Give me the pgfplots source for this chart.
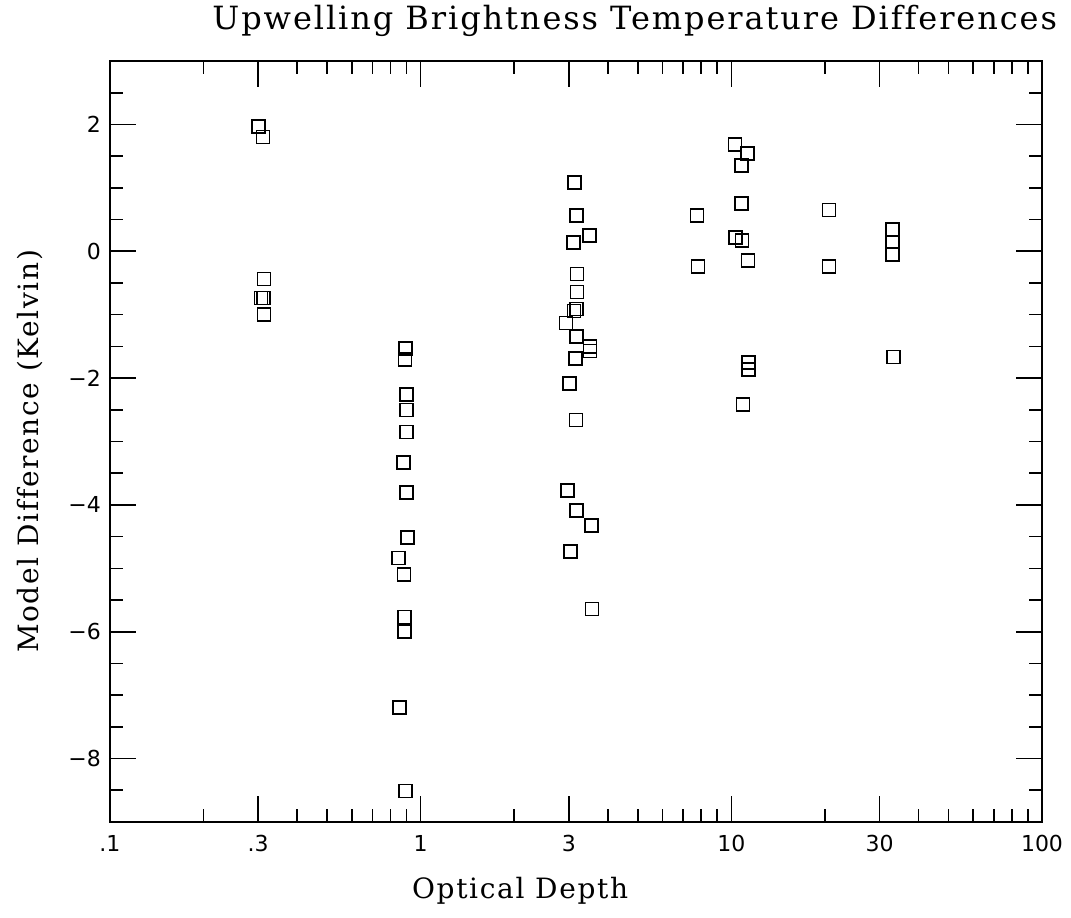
\documentclass[border=0pt]{standalone}
\usepackage{fontspec}
\setmainfont{DejaVu Serif}
\newfontfamily\titlefont[LetterSpace=6, Ligatures=NoCommon]{DejaVu Serif}
\newfontfamily\tickfont{DejaVu Sans}
\usepackage{pgfplots}
\pgfplotsset{compat=1.18}

\begin{document}
\begin{tikzpicture}
\begin{axis}[
    name=ax,
    at={(0,0)}, anchor=south west,
    scale only axis,
    width=466pt, height=380.5pt,
    xmode=log, log basis x=10,
    xmin=0.1, xmax=100,
    ymin=-9, ymax=3,
    xtick={0.1,0.3,1,3,10,30,100},
    xticklabels={.1,.3,1,3,10,30,100},
    minor xtick={0.2,0.4,0.5,0.6,0.7,0.8,0.9,2,4,5,6,7,8,9,20,40,50,60,70,80,90},
    ytick={-8,-6,-4,-2,0,2},
    yticklabels={−8,−6,−4,−2,0,2},
    minor ytick={-9,-8.5,...,3},
    tick align=inside,
    major tick length=13pt,
    minor tick length=6.5pt,
    every tick/.style={black, line width=0.8pt},
    axis line style={line width=1pt},
    tick label style={font=\tickfont\fontsize{11pt}{13pt}\selectfont},
    xticklabel style={yshift=-3pt},
    yticklabel style={xshift=-1pt},
    title={Upwelling Brightness Temperature Differences},
    title style={font=\titlefont\fontsize{16pt}{18pt}\selectfont, at={(axis description cs:0.563,1.025)}, anchor=base},
    xlabel={Optical Depth},
    xlabel style={font=\titlefont\fontsize{14pt}{16pt}\selectfont, at={(axis description cs:0.44,-0.1)}, anchor=base},
    ylabel={Model Difference (Kelvin)},
    ylabel style={font=\titlefont\fontsize{14pt}{16pt}\selectfont, at={(axis description cs:-0.077,0.487)}, anchor=base, rotate=0},
]
% squares
\addplot[only marks, mark=square, mark size=3.25pt, mark options={line width=0.8pt}, black] coordinates {
    (0.301,1.97) (0.311,1.80) (0.313,-0.44) (0.306,-0.74) (0.312,-0.74) (0.313,-1.00)
    (0.895,-1.53) (0.890,-1.71) (0.899,-2.26) (0.899,-2.50) (0.900,-2.85) (0.879,-3.33)
    (0.899,-3.80) (0.906,-4.51) (0.850,-4.84) (0.883,-5.10) (0.886,-5.77) (0.886,-6.00)
    (0.856,-7.19) (0.894,-8.51)
    (3.13,1.085) (3.18,0.566) (3.50,0.25) (3.11,0.134) (3.19,-0.36) (3.19,-0.64)
    (3.12,-0.94) (3.17,-0.91) (2.94,-1.13) (3.17,-1.34) (3.51,-1.50) (3.51,-1.57)
    (3.15,-1.69) (3.01,-2.09) (3.16,-2.66) (2.97,-3.77) (3.18,-4.09) (3.55,-4.32)
    (3.03,-4.73) (3.56,-5.64)
    (10.27,1.68) (11.28,1.54) (10.77,1.35) (10.77,0.75) (7.75,0.566) (10.32,0.22)
    (10.82,0.168) (11.30,-0.15) (7.81,-0.245) (11.34,-1.75) (11.34,-1.86) (10.9,-2.42)
    (20.6,0.653) (20.65,-0.24) (33.0,0.34) (33.0,0.148) (33.0,-0.047) (33.2,-1.67)
};
\end{axis}
\pgfresetboundingbox
\path (ax.south west) ++(-55pt,-47.5pt) rectangle ++(535.5pt,458.5pt);
\end{tikzpicture}
\end{document}
